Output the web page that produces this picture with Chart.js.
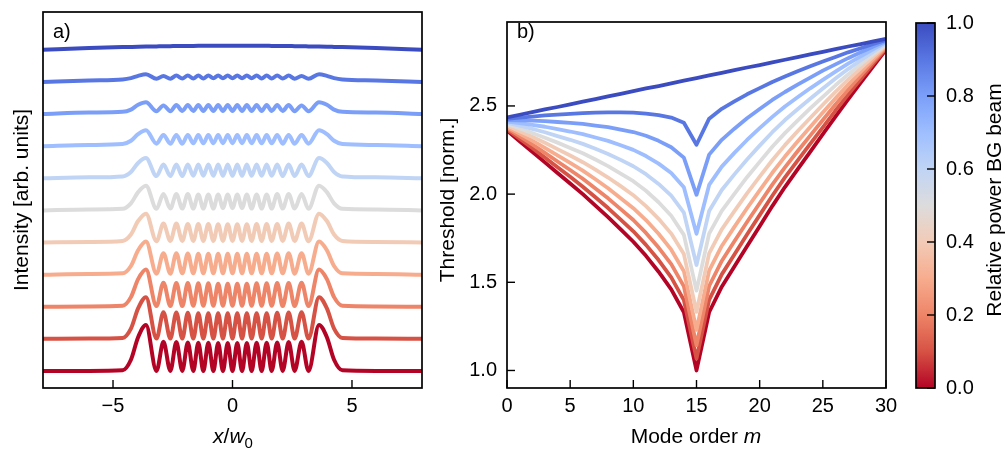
<!DOCTYPE html>
<html><head><meta charset="utf-8">
<script src="https://cdn.jsdelivr.net/npm/chart.js@4.4.1/dist/chart.umd.min.js"></script>
<style>
html,body{margin:0;padding:0;background:#fff;}
#wrap{position:relative;width:1008px;height:453px;overflow:hidden;background:#fff;}
canvas{position:absolute;top:0;}
</style></head><body>
<div id="wrap">
<canvas id="ca" width="440" height="453" style="left:0px"></canvas>
<canvas id="cb" width="470" height="453" style="left:440px"></canvas>
<canvas id="cc" width="98" height="453" style="left:910px"></canvas>
</div>
<script>
// ---------- data ----------
const relPower = [0.0, 0.1, 0.2, 0.3, 0.4, 0.5, 0.6, 0.7, 0.8, 0.9, 1.0];
const seriesColors = ['#b40426', '#d65244', '#ee8468', '#f7ac8e', '#f2cbb7', '#dddcdc',
                      '#c0d4f5', '#9ebeff', '#7b9ff9', '#5977e3', '#3b4cc0'];

// panel a: transverse position x/w0 and intensity profiles (arb. units)
const xPos = [-8, -6, -4.6, -4.25, -3.95, -3.62, -3.18, -2.89, -2.6, -2.35, -2.1, -1.87, -1.64, -1.43, -1.22, -1.01, -0.8, -0.6, -0.4, -0.2, 0,
              0.2, 0.4, 0.6, 0.8, 1.01, 1.22, 1.43, 1.64, 1.87, 2.1, 2.35, 2.6, 2.89, 3.18, 3.62, 3.95, 4.25, 4.6, 6, 8];
const intensityP00 = [0,0,0.02,0.35,1.05,1.43,0,0.91,0,0.9,0,0.89,0,0.88,0,0.88,0,0.87,0,0.87,0,
                      0.87,0,0.87,0,0.88,0,0.88,0,0.89,0,0.9,0,0.91,0,1.43,1.05,0.35,0.02,0,0];
const intensityP01 = [0,0.01,0.03,0.32,0.95,1.30,0.01,0.83,0.01,0.82,0.01,0.81,0.01,0.80,0.01,0.80,0.01,0.80,0.01,0.80,0.01,
                      0.80,0.01,0.80,0.01,0.80,0.01,0.80,0.01,0.81,0.01,0.82,0.01,0.83,0.01,1.30,0.95,0.32,0.03,0.01,0];
const intensityP02 = [0,0.01,0.03,0.30,0.86,1.16,0.02,0.75,0.02,0.74,0.02,0.74,0.03,0.73,0.03,0.73,0.03,0.72,0.03,0.72,0.03,
                      0.72,0.03,0.72,0.03,0.73,0.03,0.73,0.03,0.74,0.02,0.74,0.02,0.75,0.02,1.16,0.86,0.30,0.03,0.01,0];
const intensityP03 = [0,0.02,0.04,0.27,0.76,1.03,0.03,0.67,0.03,0.67,0.04,0.66,0.04,0.65,0.04,0.65,0.04,0.65,0.04,0.65,0.04,
                      0.65,0.04,0.65,0.04,0.65,0.04,0.65,0.04,0.66,0.04,0.67,0.03,0.67,0.03,1.03,0.76,0.27,0.04,0.02,0];
const intensityP04 = [0,0.02,0.05,0.25,0.67,0.90,0.04,0.59,0.05,0.59,0.05,0.58,0.05,0.58,0.05,0.58,0.05,0.57,0.05,0.57,0.05,
                      0.57,0.05,0.57,0.05,0.58,0.05,0.58,0.05,0.58,0.05,0.59,0.05,0.59,0.04,0.90,0.67,0.25,0.05,0.02,0];
const intensityP05 = [0,0.03,0.05,0.22,0.57,0.77,0.05,0.51,0.06,0.51,0.06,0.51,0.06,0.50,0.06,0.50,0.06,0.50,0.07,0.50,0.07,
                      0.50,0.07,0.50,0.06,0.50,0.06,0.50,0.06,0.51,0.06,0.51,0.06,0.51,0.05,0.77,0.57,0.22,0.05,0.03,0];
const intensityP06 = [0,0.03,0.06,0.20,0.48,0.63,0.07,0.43,0.07,0.43,0.07,0.43,0.08,0.43,0.08,0.43,0.08,0.43,0.08,0.43,0.08,
                      0.43,0.08,0.43,0.08,0.43,0.08,0.43,0.08,0.43,0.07,0.43,0.07,0.43,0.07,0.63,0.48,0.20,0.06,0.03,0];
const intensityP07 = [0,0.04,0.07,0.17,0.38,0.50,0.08,0.35,0.08,0.35,0.08,0.35,0.09,0.35,0.09,0.35,0.09,0.35,0.09,0.35,0.09,
                      0.35,0.09,0.35,0.09,0.35,0.09,0.35,0.09,0.35,0.08,0.35,0.08,0.35,0.08,0.50,0.38,0.17,0.07,0.04,0];
const intensityP08 = [0,0.05,0.07,0.14,0.29,0.37,0.09,0.27,0.09,0.28,0.10,0.28,0.10,0.28,0.10,0.28,0.10,0.28,0.10,0.28,0.10,
                      0.28,0.10,0.28,0.10,0.28,0.10,0.28,0.10,0.28,0.10,0.28,0.09,0.27,0.09,0.37,0.29,0.14,0.07,0.05,0];
const intensityP09 = [0,0.05,0.08,0.12,0.19,0.24,0.10,0.19,0.10,0.20,0.11,0.20,0.11,0.20,0.11,0.20,0.12,0.20,0.12,0.20,0.12,
                      0.20,0.12,0.20,0.12,0.20,0.11,0.20,0.11,0.20,0.11,0.20,0.10,0.19,0.10,0.24,0.19,0.12,0.08,0.05,0];
const intensityP10 = [0,0.057,0.087,0.093,0.098,0.103,0.109,0.113,0.116,0.119,0.121,0.123,0.125,0.126,0.127,0.128,0.129,0.129,0.13,0.13,0.13,
                      0.13,0.13,0.129,0.129,0.128,0.127,0.126,0.125,0.123,0.121,0.119,0.116,0.113,0.109,0.103,0.098,0.093,0.087,0.057,0];
const intensitySeries = [intensityP00, intensityP01, intensityP02, intensityP03, intensityP04, intensityP05,
                         intensityP06, intensityP07, intensityP08, intensityP09, intensityP10];

// panel b: mode order m and normalized threshold
const modeOrder = [0,1,2,3,4,5,6,7,8,9,10,11,12,13,14,15,16,17,18,19,20,21,22,23,24,25,26,27,28,29,30];
const thresholdP00 = [2.36,2.30,2.24,2.18,2.12,2.06,2.00,1.935,1.87,1.80,1.73,1.65,1.56,1.46,1.33,1.00,1.33,1.475,1.59,1.705,1.818,1.932,2.04,2.14,2.24,2.34,2.44,2.537,2.632,2.726,2.82];
const thresholdP01 = [2.367,2.314,2.261,2.207,2.152,2.098,2.042,1.982,1.921,1.855,1.789,1.712,1.626,1.528,1.399,1.067,1.400,1.545,1.658,1.771,1.881,1.991,2.095,2.190,2.285,2.379,2.474,2.564,2.653,2.740,2.826];
const thresholdP02 = [2.375,2.328,2.282,2.234,2.185,2.137,2.087,2.032,1.976,1.915,1.853,1.780,1.697,1.603,1.477,1.143,1.479,1.621,1.733,1.842,1.948,2.054,2.152,2.243,2.332,2.420,2.508,2.592,2.673,2.753,2.832];
const thresholdP03 = [2.382,2.343,2.303,2.262,2.220,2.177,2.133,2.084,2.033,1.977,1.920,1.853,1.775,1.685,1.563,1.230,1.566,1.706,1.814,1.920,2.021,2.121,2.213,2.298,2.381,2.463,2.543,2.620,2.694,2.767,2.838];
const thresholdP04 = [2.389,2.357,2.325,2.291,2.255,2.219,2.181,2.139,2.094,2.045,1.994,1.932,1.860,1.776,1.660,1.332,1.664,1.800,1.904,2.004,2.099,2.192,2.278,2.356,2.432,2.507,2.580,2.649,2.715,2.781,2.844];
const thresholdP05 = [2.397,2.372,2.347,2.320,2.292,2.262,2.232,2.196,2.159,2.116,2.073,2.019,1.954,1.877,1.769,1.453,1.776,1.905,2.002,2.096,2.183,2.269,2.346,2.417,2.486,2.552,2.617,2.678,2.737,2.794,2.850];
const thresholdP06 = [2.404,2.388,2.370,2.351,2.329,2.308,2.285,2.257,2.228,2.194,2.158,2.113,2.058,1.991,1.895,1.598,1.904,2.023,2.112,2.196,2.275,2.351,2.420,2.481,2.541,2.599,2.655,2.709,2.759,2.808,2.856];
const thresholdP07 = [2.412,2.403,2.393,2.382,2.368,2.355,2.340,2.321,2.302,2.277,2.251,2.216,2.173,2.120,2.039,1.775,2.052,2.156,2.234,2.307,2.374,2.438,2.497,2.549,2.600,2.648,2.695,2.740,2.781,2.822,2.862];
const thresholdP08 = [2.420,2.418,2.417,2.414,2.409,2.404,2.398,2.389,2.380,2.366,2.352,2.331,2.302,2.266,2.207,1.996,2.224,2.308,2.371,2.430,2.483,2.534,2.579,2.621,2.661,2.700,2.736,2.771,2.804,2.837,2.869];
const thresholdP09 = [2.427,2.434,2.440,2.446,2.451,2.455,2.459,2.462,2.464,2.464,2.462,2.457,2.448,2.434,2.405,2.280,2.428,2.484,2.526,2.566,2.601,2.636,2.667,2.697,2.725,2.752,2.778,2.804,2.827,2.851,2.874];
const thresholdP10 = [2.435,2.450,2.465,2.480,2.494,2.509,2.524,2.539,2.554,2.569,2.584,2.599,2.613,2.628,2.643,2.658,2.673,2.688,2.703,2.718,2.732,2.747,2.762,2.777,2.792,2.807,2.822,2.837,2.851,2.866,2.881];
const thresholdSeries = [thresholdP00, thresholdP01, thresholdP02, thresholdP03, thresholdP04, thresholdP05,
                         thresholdP06, thresholdP07, thresholdP08, thresholdP09, thresholdP10];

// tick labels
const xTicksA = [-5, 0, 5];
const xTicksB = [0, 5, 10, 15, 20, 25, 30];
const yTicksB = [1.0, 1.5, 2.0, 2.5];
const cbTicks = [0.0, 0.2, 0.4, 0.6, 0.8, 1.0];

// ---------- helpers ----------
const FONT = '"Liberation Sans", Arial, Helvetica, sans-serif';
Chart.defaults.font.family = FONT;
Chart.defaults.color = '#000';

function drawRich(ctx, segs, x, y, opt) {
  const size = opt.size || 21, rot = opt.rot || 0, align = opt.align || 'center';
  ctx.save();
  ctx.translate(x, y);
  if (rot) ctx.rotate(rot);
  let w = 0;
  const parts = segs.map(s => {
    const sz = s.sub ? Math.round(size * 0.7) : size;
    const font = (s.it ? 'italic ' : '') + sz + 'px ' + FONT;
    ctx.font = font;
    const mw = ctx.measureText(s.t).width;
    const part = { s: s, font: font, off: w };
    w += mw;
    return part;
  });
  const x0 = align === 'center' ? -w / 2 : 0;
  ctx.fillStyle = '#000';
  ctx.textBaseline = 'alphabetic';
  ctx.textAlign = 'left';
  parts.forEach(p => { ctx.font = p.font; ctx.fillText(p.s.t, x0 + p.off, p.s.sub ? size * 0.22 : 0); });
  ctx.restore();
}

function framePlugin(cfg) {
  return {
    id: 'frame',
    afterDraw(chart) {
      const ctx = chart.ctx, a = chart.chartArea;
      ctx.save();
      ctx.strokeStyle = '#000';
      ctx.lineWidth = 1.4;
      (cfg.ticks || []).forEach(t => {
        const s = chart.scales[t.scale];
        s.ticks.forEach(tk => {
          const p = s.getPixelForValue(tk.value);
          ctx.beginPath();
          if (t.side === 'bottom') { ctx.moveTo(p, a.bottom); ctx.lineTo(p, a.bottom - t.len); }
          else if (t.side === 'left') { ctx.moveTo(a.left, p); ctx.lineTo(a.left + t.len, p); }
          else if (t.side === 'right') { ctx.moveTo(a.right, p); ctx.lineTo(a.right - t.len, p); }
          ctx.stroke();
        });
      });
      ctx.lineWidth = 1.7;
      ctx.strokeRect(a.left, a.top, a.right - a.left, a.bottom - a.top);
      ctx.restore();
      (cfg.texts || []).forEach(t => drawRich(ctx, t.segs, t.x, t.y, t));
    }
  };
}

const tickFont = { family: FONT, size: 20 };
const minusFmt = v => (v < 0 ? '\u2212' + Math.abs(v) : String(v));

// ---------- panel a ----------
const curveSpacing = 1;
const dsA = [];
for (let k = intensitySeries.length - 1; k >= 0; k--) {
  dsA.push({
    data: xPos.map((x, i) => ({ x: x, y: intensitySeries[k][i] + k * curveSpacing })),
    borderColor: seriesColors[k],
    borderWidth: 4,
    pointRadius: 0,
    cubicInterpolationMode: 'monotone',
    borderJoinStyle: 'round',
    clip: 0
  });
}
new Chart(document.getElementById('ca'), {
  type: 'line',
  data: { datasets: dsA },
  options: {
    responsive: false, animation: false, devicePixelRatio: 1,
    layout: { padding: { left: 43, top: 12, right: 18, bottom: 0 } },
    plugins: { legend: { display: false }, tooltip: { enabled: false } },
    scales: {
      x: {
        type: 'linear', min: -7.93, max: 7.93,
        grid: { display: false, drawTicks: false }, border: { display: false },
        ticks: { font: tickFont, color: '#000', padding: 6, maxRotation: 0, callback: minusFmt },
        afterBuildTicks: s => { s.ticks = xTicksA.map(v => ({ value: v })); },
        afterFit: s => { s.height = 65; }
      },
      y: { type: 'linear', min: -0.53, max: 11.18, display: false }
    }
  },
  plugins: [framePlugin({
    ticks: [{ scale: 'x', side: 'bottom', len: 8 }],
    texts: [
      { segs: [{ t: 'a)' }], x: 53, y: 38, size: 20, align: 'left' },
      { segs: [{ t: 'x', it: 1 }, { t: '/' }, { t: 'w', it: 1 }, { t: '0', sub: 1 }], x: 233, y: 443, size: 21 },
      { segs: [{ t: 'Intensity [arb. units]' }], x: 28, y: 200, size: 21, rot: -Math.PI / 2 }
    ]
  })]
});

// ---------- panel b ----------
const dsB = [];
for (let k = thresholdSeries.length - 1; k >= 0; k--) {
  dsB.push({
    data: modeOrder.map((m, i) => ({ x: m, y: thresholdSeries[k][i] })),
    borderColor: seriesColors[k],
    borderWidth: 3.8,
    pointRadius: 0,
    tension: 0,
    borderJoinStyle: 'round',
    clip: 0
  });
}
new Chart(document.getElementById('cb'), {
  type: 'line',
  data: { datasets: dsB },
  options: {
    responsive: false, animation: false, devicePixelRatio: 1,
    layout: { padding: { left: 0, top: 12, right: 24, bottom: 0 } },
    plugins: { legend: { display: false }, tooltip: { enabled: false } },
    scales: {
      x: {
        type: 'linear', min: 0, max: 30,
        grid: { display: false, drawTicks: false }, border: { display: false },
        ticks: { font: tickFont, color: '#000', padding: 6, maxRotation: 0, autoSkip: false },
        afterBuildTicks: s => { s.ticks = xTicksB.map(v => ({ value: v })); },
        afterFit: s => { s.height = 65; }
      },
      y: {
        type: 'linear', min: 0.9006, max: 2.976,
        grid: { display: false, drawTicks: false }, border: { display: false },
        ticks: { font: tickFont, color: '#000', padding: 10, autoSkip: false, callback: v => Number(v).toFixed(1) },
        afterBuildTicks: s => { s.ticks = yTicksB.map(v => ({ value: v })); },
        afterFit: s => { s.width = 67; }
      }
    }
  },
  plugins: [framePlugin({
    ticks: [{ scale: 'x', side: 'bottom', len: 8 }, { scale: 'y', side: 'left', len: 8 }],
    texts: [
      { segs: [{ t: 'b)' }], x: 77, y: 38, size: 20, align: 'left' },
      { segs: [{ t: 'Mode order ' }, { t: 'm', it: 1 }], x: 256, y: 443, size: 21 },
      { segs: [{ t: 'Threshold [norm.]' }], x: 14, y: 200, size: 21, rot: -Math.PI / 2 }
    ]
  })]
});

// ---------- colorbar ----------
new Chart(document.getElementById('cc'), {
  type: 'bar',
  data: {
    labels: [''],
    datasets: [{
      data: [1],
      borderWidth: 0,
      barPercentage: 1, categoryPercentage: 1,
      backgroundColor: c => {
        const ch = c.chart, a = ch.chartArea;
        if (!a) return seriesColors[5];
        const g = ch.ctx.createLinearGradient(0, a.bottom, 0, a.top);
        seriesColors.forEach((col, i) => g.addColorStop(relPower[i], col));
        return g;
      }
    }]
  },
  options: {
    responsive: false, animation: false, devicePixelRatio: 1,
    layout: { padding: { left: 6, top: 12, right: 0, bottom: 65 } },
    plugins: { legend: { display: false }, tooltip: { enabled: false } },
    scales: {
      x: { display: false },
      y: {
        position: 'right', min: 0, max: 1,
        grid: { display: false, drawTicks: false }, border: { display: false },
        ticks: { font: tickFont, color: '#000', padding: 11, callback: v => Number(v).toFixed(1) },
        afterBuildTicks: s => { s.ticks = cbTicks.map(v => ({ value: v })); },
        afterFit: s => { s.width = 73; }
      }
    }
  },
  plugins: [framePlugin({
    ticks: [{ scale: 'y', side: 'right', len: 8 }],
    texts: [
      { segs: [{ t: 'Relative power BG beam' }], x: 91, y: 200, size: 21, rot: -Math.PI / 2 }
    ]
  })]
});
</script>
</body></html>
